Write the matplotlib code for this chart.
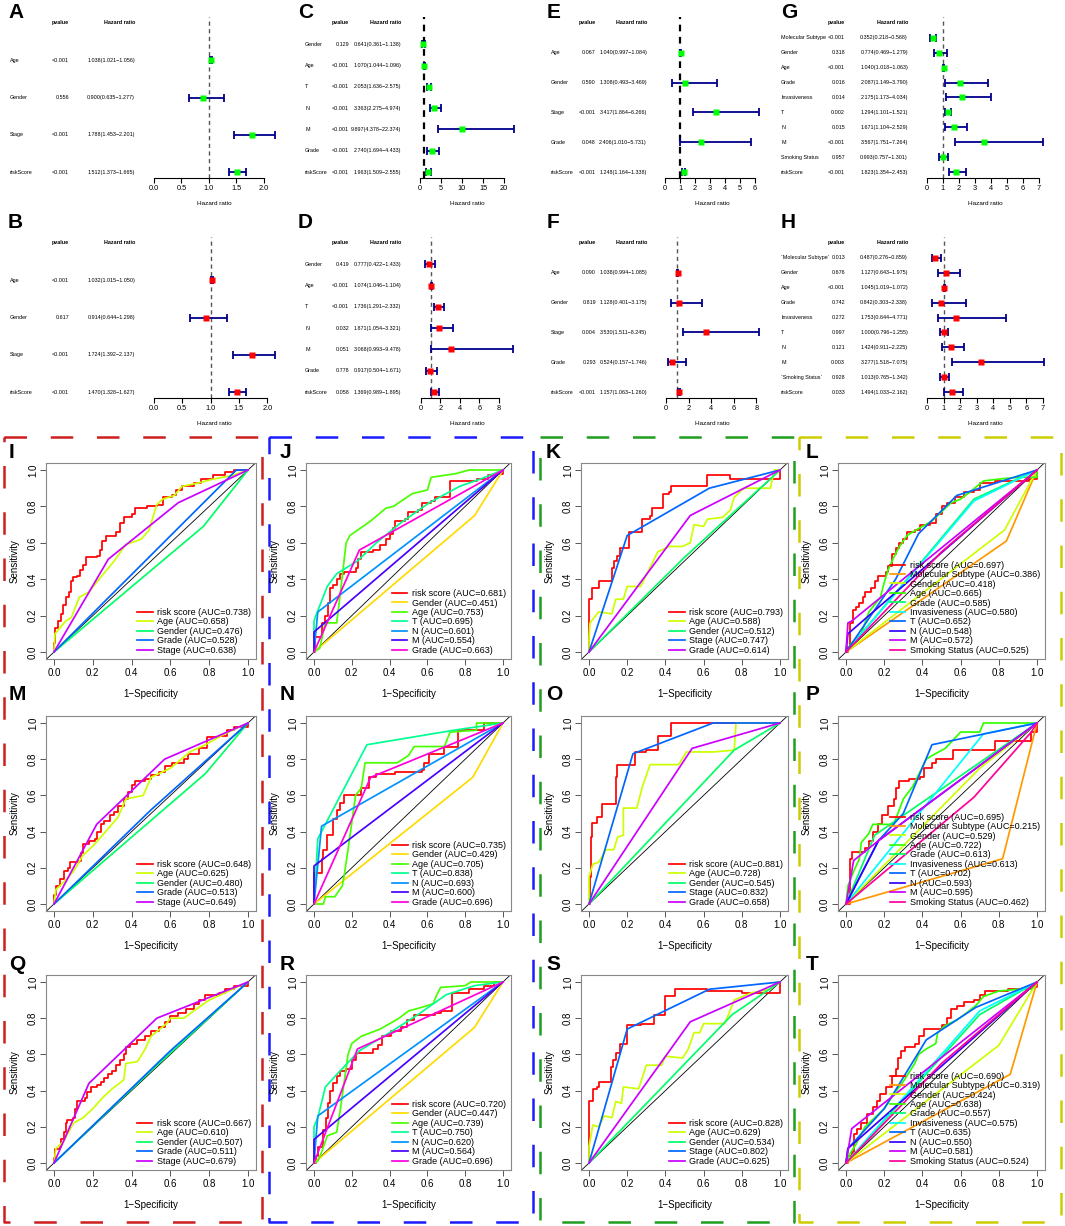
import numpy as np
import matplotlib
matplotlib.use("Agg")
import matplotlib.pyplot as plt
from matplotlib import font_manager
from matplotlib.transforms import blended_transform_factory

# ---------------- Cox regression forest plots ----------------
A_vars = ["Age", "Gender", "Stage", "riskScore"]
A_p = ["<0.001", "0.556", "<0.001", "<0.001"]
A_hr = [1.038, 0.900, 1.788, 1.512]
A_lo = [1.021, 0.635, 1.453, 1.373]
A_hi = [1.056, 1.277, 2.201, 1.665]

B_vars = ["Age", "Gender", "Stage", "riskScore"]
B_p = ["<0.001", "0.617", "<0.001", "<0.001"]
B_hr = [1.032, 0.914, 1.724, 1.470]
B_lo = [1.015, 0.644, 1.392, 1.328]
B_hi = [1.050, 1.298, 2.137, 1.627]

C_vars = ["Gender", "Age", "T", "N", "M", "Grade", "riskScore"]
C_p = ["0.129", "<0.001", "<0.001", "<0.001", "<0.001", "<0.001", "<0.001"]
C_hr = [0.641, 1.070, 2.053, 3.363, 9.897, 2.740, 1.963]
C_lo = [0.361, 1.044, 1.636, 2.275, 4.378, 1.694, 1.509]
C_hi = [1.138, 1.096, 2.575, 4.974, 22.374, 4.433, 2.555]

D_vars = ["Gender", "Age", "T", "N", "M", "Grade", "riskScore"]
D_p = ["0.419", "<0.001", "<0.001", "0.032", "0.051", "0.778", "0.058"]
D_hr = [0.777, 1.074, 1.736, 1.871, 3.068, 0.917, 1.369]
D_lo = [0.422, 1.046, 1.291, 1.054, 0.993, 0.504, 0.989]
D_hi = [1.433, 1.104, 2.332, 3.321, 9.478, 1.671, 1.895]

E_vars = ["Age", "Gender", "Stage", "Grade", "riskScore"]
E_p = ["0.067", "0.590", "<0.001", "0.048", "<0.001"]
E_hr = [1.040, 1.308, 3.417, 2.406, 1.248]
E_lo = [0.997, 0.493, 1.864, 1.010, 1.164]
E_hi = [1.084, 3.469, 6.266, 5.731, 1.338]

F_vars = ["Age", "Gender", "Stage", "Grade", "riskScore"]
F_p = ["0.090", "0.819", "0.004", "0.293", "<0.001"]
F_hr = [1.038, 1.128, 3.530, 0.524, 1.157]
F_lo = [0.994, 0.401, 1.511, 0.157, 1.063]
F_hi = [1.085, 3.175, 8.245, 1.746, 1.260]

G_vars = ["Molecular Subtype", "Gender", "Age", "Grade", "Invasiveness", "T", "N", "M",
          "Smoking Status", "riskScore"]
G_p = ["<0.001", "0.318", "<0.001", "0.016", "0.014", "0.002", "0.015", "<0.001", "0.957", "<0.001"]
G_hr = [0.352, 0.774, 1.040, 2.087, 2.175, 1.294, 1.671, 3.567, 0.993, 1.823]
G_lo = [0.218, 0.469, 1.018, 1.149, 1.173, 1.101, 1.104, 1.751, 0.757, 1.354]
G_hi = [0.568, 1.279, 1.063, 3.790, 4.034, 1.521, 2.529, 7.264, 1.301, 2.453]

H_vars = ["`Molecular Subtype`", "Gender", "Age", "Grade", "Invasiveness", "T", "N", "M",
          "`Smoking Status`", "riskScore"]
H_p = ["0.013", "0.676", "<0.001", "0.742", "0.272", "0.997", "0.121", "0.003", "0.928", "0.033"]
H_hr = [0.487, 1.127, 1.045, 0.842, 1.753, 1.000, 1.424, 3.277, 1.013, 1.494]
H_lo = [0.276, 0.643, 1.019, 0.303, 0.644, 0.796, 0.911, 1.518, 0.765, 1.033]
H_hi = [0.859, 1.975, 1.072, 2.338, 4.771, 1.255, 2.225, 7.075, 1.342, 2.162]

# ---------------- ROC curves ----------------
col0_labels = ["risk score", "Age", "Gender", "Grade", "Stage"]
col1_labels = ["risk score", "Gender", "Age", "T", "N", "M", "Grade"]
col2_labels = ["risk score", "Age", "Gender", "Stage", "Grade"]
col3_labels = ["risk score", "Molecular Subtype", "Gender", "Age", "Grade", "Invasiveness",
               "T", "N", "M", "Smoking Status"]

I_auc = [0.738, 0.658, 0.476, 0.528, 0.638]
M_auc = [0.648, 0.625, 0.480, 0.513, 0.649]
Q_auc = [0.667, 0.610, 0.507, 0.511, 0.679]
J_auc = [0.681, 0.451, 0.753, 0.695, 0.601, 0.554, 0.663]
N_auc = [0.735, 0.429, 0.705, 0.838, 0.693, 0.600, 0.696]
R_auc = [0.720, 0.447, 0.739, 0.750, 0.620, 0.564, 0.696]
K_auc = [0.793, 0.588, 0.512, 0.747, 0.614]
O_auc = [0.881, 0.728, 0.545, 0.832, 0.658]
S_auc = [0.828, 0.629, 0.534, 0.802, 0.625]
L_auc = [0.697, 0.386, 0.418, 0.665, 0.585, 0.580, 0.652, 0.548, 0.572, 0.525]
P_auc = [0.695, 0.215, 0.529, 0.722, 0.613, 0.613, 0.702, 0.593, 0.595, 0.462]
T_auc = [0.690, 0.319, 0.424, 0.638, 0.557, 0.575, 0.635, 0.550, 0.581, 0.524]

# risk score curves: (FPR where a rise happens, TPR after it)
I_risk = [(0, 0), (0, 0.05), (0.005, 0.13), (0.02, 0.17), (0.035, 0.21), (0.045, 0.26), (0.06, 0.30),
          (0.075, 0.33), (0.09, 0.39), (0.10, 0.41), (0.12, 0.42), (0.135, 0.45), (0.15, 0.48),
          (0.165, 0.52), (0.22, 0.53), (0.235, 0.56), (0.25, 0.61), (0.27, 0.64), (0.32, 0.66),
          (0.34, 0.71), (0.36, 0.74), (0.40, 0.76), (0.42, 0.79), (0.48, 0.80), (0.53, 0.81),
          (0.56, 0.85), (0.61, 0.86), (0.63, 0.89), (0.66, 0.91), (0.72, 0.93), (0.76, 0.95),
          (0.82, 0.97), (0.88, 0.99), (0.93, 1.0), (1, 1)]
M_risk = [(0, 0), (0, 0.05), (0.01, 0.10), (0.03, 0.14), (0.05, 0.18), (0.07, 0.20), (0.08, 0.23),
          (0.13, 0.24), (0.14, 0.28), (0.15, 0.33), (0.18, 0.35), (0.21, 0.36), (0.22, 0.40),
          (0.24, 0.44), (0.26, 0.46), (0.29, 0.49), (0.31, 0.51), (0.33, 0.54), (0.36, 0.58),
          (0.38, 0.62), (0.40, 0.66), (0.42, 0.68), (0.47, 0.69), (0.50, 0.71), (0.54, 0.73),
          (0.57, 0.76), (0.61, 0.78), (0.67, 0.80), (0.69, 0.83), (0.75, 0.86), (0.79, 0.92),
          (0.85, 0.93), (0.89, 0.96), (0.93, 0.98), (1, 1)]
Q_risk = [(0, 0), (0, 0.03), (0.005, 0.08), (0.03, 0.09), (0.035, 0.13), (0.05, 0.17), (0.06, 0.22),
          (0.065, 0.24), (0.10, 0.25), (0.11, 0.30), (0.12, 0.34), (0.16, 0.36), (0.17, 0.39),
          (0.19, 0.42), (0.22, 0.43), (0.24, 0.45), (0.26, 0.47), (0.28, 0.49), (0.30, 0.51),
          (0.32, 0.54), (0.34, 0.57), (0.36, 0.60), (0.37, 0.64), (0.39, 0.66), (0.43, 0.68),
          (0.47, 0.70), (0.50, 0.73), (0.54, 0.75), (0.57, 0.78), (0.60, 0.81), (0.64, 0.83),
          (0.68, 0.85), (0.72, 0.88), (0.75, 0.90), (0.78, 0.93), (0.85, 0.94), (0.88, 0.96),
          (0.93, 0.98), (1, 1)]
J_risk = [(0, 0), (0.005, 0.08), (0.04, 0.16), (0.06, 0.20), (0.075, 0.27), (0.085, 0.35),
          (0.10, 0.37), (0.12, 0.40), (0.14, 0.43), (0.16, 0.44), (0.22, 0.46), (0.235, 0.51),
          (0.25, 0.55), (0.31, 0.56), (0.35, 0.59), (0.38, 0.62), (0.40, 0.65), (0.42, 0.68),
          (0.43, 0.72), (0.48, 0.73), (0.50, 0.77), (0.55, 0.78), (0.57, 0.82), (0.62, 0.83),
          (0.64, 0.85), (0.72, 0.94), (0.83, 0.94), (0.86, 0.95), (0.92, 0.97), (0.97, 0.98), (1, 1)]
N_risk = [(0, 0), (0, 0.17), (0.04, 0.25), (0.05, 0.30), (0.07, 0.38), (0.10, 0.47), (0.12, 0.52),
          (0.14, 0.56), (0.16, 0.60), (0.25, 0.64), (0.29, 0.70), (0.33, 0.72), (0.43, 0.73),
          (0.57, 0.74), (0.58, 0.78), (0.61, 0.83), (0.69, 0.87), (0.76, 0.96), (0.90, 1.0), (1, 1)]
R_risk = [(0, 0), (0.01, 0.04), (0.02, 0.09), (0.045, 0.18), (0.065, 0.25), (0.075, 0.33),
          (0.085, 0.40), (0.10, 0.44), (0.12, 0.48), (0.14, 0.51), (0.17, 0.52), (0.20, 0.57),
          (0.22, 0.60), (0.23, 0.61), (0.31, 0.63), (0.34, 0.65), (0.36, 0.70), (0.41, 0.73),
          (0.46, 0.75), (0.49, 0.79), (0.53, 0.82), (0.64, 0.83), (0.67, 0.84), (0.73, 0.94),
          (0.82, 0.96), (0.90, 0.98), (0.95, 1.0), (1, 1)]
K_risk = [(0, 0), (0, 0.29), (0.015, 0.35), (0.05, 0.39), (0.12, 0.46), (0.13, 0.50), (0.145, 0.53),
          (0.16, 0.57), (0.21, 0.66), (0.28, 0.73), (0.32, 0.75), (0.33, 0.79), (0.385, 0.87),
          (0.42, 0.88), (0.43, 0.91), (0.62, 0.97), (0.74, 0.95), (1.0, 1.0)]
O_risk = [(0, 0), (0.005, 0.15), (0.01, 0.37), (0.015, 0.45), (0.04, 0.48), (0.07, 0.55),
          (0.14, 0.70), (0.145, 0.77), (0.24, 0.84), (0.30, 0.85), (0.36, 0.93), (0.43, 1.0), (1, 1)]
S_risk = [(0, 0), (0, 0.34), (0.02, 0.41), (0.04, 0.42), (0.05, 0.45), (0.115, 0.53), (0.125, 0.57),
          (0.14, 0.61), (0.16, 0.66), (0.20, 0.76), (0.27, 0.77), (0.34, 0.82), (0.40, 0.92),
          (0.45, 0.96), (0.62, 0.95), (0.80, 0.94), (1.0, 1.0)]
L_risk = [(0, 0), (0.01, 0.03), (0.02, 0.16), (0.035, 0.23), (0.05, 0.25), (0.07, 0.27), (0.09, 0.30),
          (0.10, 0.33), (0.13, 0.35), (0.15, 0.39), (0.17, 0.42), (0.21, 0.44), (0.22, 0.47),
          (0.24, 0.54), (0.26, 0.57), (0.28, 0.60), (0.30, 0.62), (0.32, 0.66), (0.36, 0.67),
          (0.39, 0.70), (0.44, 0.71), (0.47, 0.76), (0.50, 0.80), (0.53, 0.82), (0.57, 0.85),
          (0.62, 0.88), (0.67, 0.89), (0.70, 0.93), (0.78, 0.94), (0.96, 0.95), (1, 1)]
P_risk = [(0, 0), (0.02, 0.25), (0.03, 0.29), (0.10, 0.31), (0.12, 0.35), (0.14, 0.40), (0.17, 0.44),
          (0.19, 0.49), (0.22, 0.54), (0.25, 0.58), (0.26, 0.64), (0.28, 0.68), (0.33, 0.69),
          (0.39, 0.70), (0.41, 0.75), (0.45, 0.78), (0.47, 0.80), (0.56, 0.85), (0.78, 0.90),
          (0.97, 0.95), (1, 1)]
T_risk = [(0, 0), (0.01, 0.04), (0.03, 0.06), (0.04, 0.16), (0.06, 0.19), (0.08, 0.22), (0.11, 0.27),
          (0.14, 0.31), (0.16, 0.34), (0.18, 0.38), (0.21, 0.42), (0.24, 0.48), (0.26, 0.52),
          (0.27, 0.58), (0.29, 0.62), (0.31, 0.64), (0.36, 0.66), (0.38, 0.70), (0.41, 0.74),
          (0.50, 0.76), (0.53, 0.80), (0.55, 0.85), (0.58, 0.87), (0.62, 0.89), (0.67, 0.90),
          (0.70, 0.93), (0.73, 0.95), (0.85, 0.96), (0.95, 0.97), (1, 1)]

# clinical variables (polylines)
I_age = [(0, 0), (0.005, 0.10), (0.06, 0.17), (0.09, 0.19), (0.13, 0.30), (0.18, 0.33), (0.24, 0.41),
         (0.31, 0.50), (0.37, 0.59), (0.45, 0.62), (0.49, 0.67), (0.53, 0.81), (0.56, 0.84),
         (0.62, 0.86), (0.66, 0.91), (0.75, 0.93), (0.82, 0.95), (0.92, 0.97), (1, 1)]
I_gender = [(0, 0), (0.77, 0.69), (1, 1)]
I_grade = [(0, 0), (0.94, 1.0), (1, 1)]
I_stage = [(0, 0), (0.28, 0.51), (0.64, 0.82), (1, 1)]

M_age = [(0, 0), (0.01, 0.08), (0.05, 0.12), (0.10, 0.18), (0.15, 0.27), (0.20, 0.32), (0.25, 0.38),
         (0.33, 0.48), (0.37, 0.58), (0.46, 0.60), (0.50, 0.70), (0.60, 0.75), (0.70, 0.84),
         (0.78, 0.88), (0.88, 0.94), (1, 1)]
M_gender = [(0, 0), (0.78, 0.72), (1, 1)]
M_grade = [(0, 0), (0.5, 0.52), (1, 1)]
M_stage = [(0, 0), (0.22, 0.44), (0.57, 0.80), (1, 1)]

Q_age = [(0, 0), (0.01, 0.08), (0.05, 0.12), (0.10, 0.22), (0.15, 0.25), (0.20, 0.30), (0.25, 0.36),
         (0.30, 0.41), (0.36, 0.46), (0.37, 0.55), (0.43, 0.56), (0.47, 0.63), (0.50, 0.70),
         (0.58, 0.77), (0.60, 0.80), (0.67, 0.80), (0.72, 0.84), (0.80, 0.90), (0.90, 0.95), (1, 1)]
Q_gender = [(0, 0), (0.5, 0.51), (1, 1)]
Q_grade = [(0, 0), (0.6, 0.62), (1, 1)]
Q_stage = [(0, 0), (0.18, 0.44), (0.53, 0.80), (1, 1)]

J_gender = [(0, 0), (0.85, 0.75), (1, 1)]
J_age = [(0, 0), (0.03, 0.02), (0.06, 0.16), (0.12, 0.16), (0.14, 0.33), (0.17, 0.60), (0.19, 0.64),
         (0.30, 0.72), (0.38, 0.79), (0.42, 0.80), (0.52, 0.87), (0.60, 0.89), (0.62, 0.96),
         (0.75, 0.98), (0.82, 1.0), (1, 1)]
J_t = [(0, 0), (0, 0.17), (0.01, 0.20), (0.07, 0.36), (0.12, 0.43), (0.23, 0.50), (0.33, 0.60),
       (0.46, 0.71), (0.61, 0.82), (0.77, 0.91), (0.88, 0.95), (1, 1)]
J_n = [(0, 0), (0.02, 0.22), (1, 1)]
J_m = [(0, 0), (0, 0.11), (1, 1)]
J_grade = [(0, 0), (0.24, 0.56), (1, 1)]

N_gender = [(0, 0), (0.84, 0.70), (1, 1)]
N_age = [(0, 0), (0.05, 0.0), (0.06, 0.04), (0.11, 0.04), (0.15, 0.10), (0.16, 0.16), (0.18, 0.30),
         (0.20, 0.45), (0.22, 0.60), (0.25, 0.64), (0.27, 0.78), (0.44, 0.78), (0.50, 0.82),
         (0.53, 0.87), (0.69, 0.87), (0.72, 0.95), (0.86, 0.96), (0.86, 1.0), (1, 1)]
N_t = [(0, 0), (0.02, 0.36), (0.28, 0.88), (0.74, 0.96), (1, 1)]
N_n = [(0, 0), (0.04, 0.43), (1, 1)]
N_m = [(0, 0), (0, 0.21), (1, 1)]
N_grade = [(0, 0), (0.30, 0.70), (1, 1)]

R_gender = [(0, 0), (0.85, 0.75), (1, 1)]
R_age = [(0, 0), (0.02, 0.01), (0.04, 0.06), (0.07, 0.15), (0.12, 0.17), (0.14, 0.30), (0.16, 0.45),
         (0.18, 0.60), (0.20, 0.66), (0.25, 0.70), (0.35, 0.74), (0.45, 0.80), (0.50, 0.84),
         (0.57, 0.86), (0.63, 0.88), (0.65, 0.93), (0.67, 0.97), (0.80, 0.98), (0.83, 1.0), (1, 1)]
R_t = [(0, 0), (0, 0.20), (0.02, 0.25), (0.06, 0.42), (0.13, 0.50), (0.24, 0.62), (0.40, 0.72),
       (0.55, 0.82), (0.70, 0.93), (0.85, 0.98), (1, 1)]
R_n = [(0, 0), (0.02, 0.26), (1, 1)]
R_m = [(0, 0), (0, 0.13), (1, 1)]
R_grade = [(0, 0), (0.23, 0.63), (1, 1)]

K_age = [(0, 0), (0, 0.07), (0.005, 0.16), (0.02, 0.18), (0.05, 0.22), (0.12, 0.21), (0.14, 0.29),
         (0.18, 0.29), (0.20, 0.36), (0.27, 0.36), (0.36, 0.55), (0.42, 0.58), (0.49, 0.58),
         (0.53, 0.60), (0.55, 0.70), (0.60, 0.69), (0.62, 0.73), (0.70, 0.74), (0.74, 0.78),
         (0.76, 0.85), (0.81, 0.90), (0.95, 0.90), (0.97, 1.0), (1, 1)]
K_gender = [(0, 0), (0.5, 0.52), (1, 1)]
K_stage = [(0, 0), (0.20, 0.64), (0.63, 0.90), (1, 1)]
K_grade = [(0, 0), (0.53, 0.75), (1, 1)]

O_age = [(0, 0), (0, 0.15), (0.02, 0.22), (0.05, 0.23), (0.09, 0.30), (0.13, 0.30), (0.15, 0.37),
         (0.18, 0.38), (0.18, 0.53), (0.25, 0.53), (0.28, 0.65), (0.32, 0.77), (0.47, 0.77),
         (0.51, 0.84), (0.65, 0.84), (0.76, 0.85), (0.77, 1.0), (0.85, 1.0), (1, 1)]
O_gender = [(0, 0), (0.76, 0.85), (1, 1)]
O_stage = [(0, 0), (0.23, 0.83), (0.65, 1.0), (1, 1)]
O_grade = [(0, 0), (0.54, 0.86), (1, 1)]

S_age = [(0, 0), (0, 0.09), (0.02, 0.21), (0.05, 0.20), (0.08, 0.26), (0.12, 0.25), (0.14, 0.34),
         (0.17, 0.33), (0.18, 0.42), (0.26, 0.41), (0.30, 0.54), (0.38, 0.54), (0.40, 0.59),
         (0.49, 0.58), (0.52, 0.63), (0.55, 0.72), (0.58, 0.72), (0.60, 0.77), (0.71, 0.77),
         (0.73, 0.82), (0.76, 0.90), (0.85, 0.94), (0.95, 0.96), (0.98, 1.0), (1, 1)]
S_gender = [(0, 0), (0.75, 0.82), (1, 1)]
S_stage = [(0, 0), (0.20, 0.74), (0.63, 0.96), (1, 1)]
S_grade = [(0, 0), (0.53, 0.78), (1, 1)]

L_ms = [(0, 0), (0.84, 0.61), (1, 1)]
L_gender = [(0, 0), (0.83, 0.67), (1, 1)]
L_age = [(0, 0), (0.03, 0.05), (0.08, 0.10), (0.12, 0.22), (0.18, 0.30), (0.20, 0.38), (0.22, 0.45),
         (0.25, 0.52), (0.28, 0.58), (0.32, 0.64), (0.35, 0.66), (0.40, 0.69), (0.45, 0.72),
         (0.50, 0.77), (0.55, 0.82), (0.60, 0.84), (0.65, 0.88), (0.72, 0.94), (0.80, 0.95),
         (0.90, 0.96), (1, 0.96), (1, 1)]
L_grade = [(0, 0), (0.67, 0.84), (1, 1)]
L_inv = [(0, 0), (0.67, 0.83), (1, 1)]
L_t = [(0, 0), (0.26, 0.40), (0.38, 0.65), (0.58, 0.86), (1, 1)]
L_n = [(0, 0), (0.01, 0.10), (1, 1)]
L_m = [(0, 0), (0.01, 0.16), (0.03, 0.17), (1, 1)]
L_smoke = [(0, 0), (0.50, 0.55), (1, 1)]

P_ms = [(0, 0), (0.82, 0.25), (1, 1)]
P_gender = [(0, 0), (0.70, 0.75), (1, 1)]
P_age = [(0, 0), (0.01, 0.10), (0.04, 0.18), (0.07, 0.25), (0.08, 0.34), (0.12, 0.39), (0.14, 0.44),
         (0.25, 0.44), (0.30, 0.58), (0.35, 0.65), (0.42, 0.80), (0.45, 0.82), (0.52, 0.86),
         (0.60, 0.95), (0.70, 0.95), (0.72, 1.0), (0.98, 1.0), (1, 1)]
P_grade = [(0, 0), (0.15, 0.38), (1, 1)]
P_inv = [(0, 0), (0.72, 0.94), (1, 1)]
P_t = [(0, 0), (0.17, 0.35), (0.30, 0.50), (0.45, 0.88), (1, 1)]
P_n = [(0, 0), (0.17, 0.35), (1, 1)]
P_m = [(0, 0), (0.04, 0.24), (0.17, 0.35), (1, 1)]
P_smoke = [(0, 0), (0.67, 0.59), (0.97, 0.95), (1, 1)]

T_ms = [(0, 0), (0.86, 0.49), (1, 1)]
T_gender = [(0, 0), (0.80, 0.65), (1, 1)]
T_age = [(0, 0), (0.02, 0.05), (0.05, 0.10), (0.10, 0.20), (0.15, 0.25), (0.20, 0.30), (0.25, 0.38),
         (0.30, 0.45), (0.36, 0.55), (0.38, 0.60), (0.42, 0.63), (0.47, 0.66), (0.48, 0.72),
         (0.52, 0.76), (0.58, 0.79), (0.62, 0.82), (0.68, 0.87), (0.72, 0.92), (0.80, 0.95),
         (0.90, 0.96), (0.97, 0.96), (1, 1)]
T_grade = [(0, 0), (0.70, 0.82), (1, 1)]
T_inv = [(0, 0), (0.70, 0.84), (1, 1)]
T_t = [(0, 0), (0.01, 0.08), (0.20, 0.30), (0.42, 0.68), (0.68, 0.86), (1, 1)]
T_n = [(0, 0), (0.01, 0.08), (1, 1)]
T_m = [(0, 0), (0.03, 0.19), (1, 1)]
T_smoke = [(0, 0), (0.50, 0.55), (1, 1)]

# R rainbow() palettes
rb5 = ['#FF0000', '#CCFF00', '#00FF66', '#0066FF', '#CC00FF']
rb7 = ['#FF0000', '#FFDB00', '#49FF00', '#00FF92', '#0092FF', '#4900FF', '#FF00DB']
rb10 = ['#FF0000', '#FF9900', '#CCFF00', '#33FF00', '#00FF66', '#00FFFF', '#0066FF', '#3300FF',
        '#CC00FF', '#FF0099']

W, H = 1065, 1226

avail = {f.name for f in font_manager.fontManager.ttflist}
if "Liberation Sans Narrow" in avail:
    NARROW, fscale = "Liberation Sans Narrow", 1.0
else:
    NARROW, fscale = "Liberation Sans", 0.85
FN = [NARROW, "DejaVu Sans"]
plt.rcParams['font.family'] = ['Liberation Sans', 'DejaVu Sans']

fig = plt.figure(figsize=(W / 100, H / 100), dpi=100)


def rect(x0, y0, x1, y1):
    # pixel box (top-left origin) -> figure fraction
    return [x0 / W, 1 - y1 / H, (x1 - x0) / W, (y1 - y0) / H]


# dashed frames around the ROC columns
ov = fig.add_axes([0, 0, 1, 1], zorder=0)
ov.set_xlim(0, W)
ov.set_ylim(H, 0)
ov.axis('off')
frames = [(4, 262, '#cc1f1f'), (269, 533, '#1a1aff'), (540, 794, '#1f9f1f'), (799, 1061, '#cccc00')]
for l, r, c in frames:
    ov.plot([l, r, r, l, l], [437, 437, 1222, 1222, 437], color=c, lw=1.8,
            ls=(0, (9, 9.5)), dash_capstyle='butt')


def forest(letter, vars_, pv, hr, lo, hi, dot, xr, top, bottom, cols, lab_x, lab_y,
           ticks, tlabels, vcol, vlw):
    n = len(vars_)
    hr, lo, hi = np.array(hr), np.array(lo), np.array(hi)
    ax = fig.add_axes(rect(xr[0], top, xr[1], bottom))
    ax.patch.set_alpha(0)
    ax.set_xlim(0, hi.max())
    ax.set_ylim(1 - 0.04 * n, n + 1 + 0.04 * n)
    y = np.arange(n, 0, -1)
    eb = ax.errorbar(hr, y, xerr=[hr - lo, hi - hr], fmt='none', ecolor='#00008B',
                     elinewidth=1.3, capsize=2.8, capthick=1.3)
    for art in list(eb.lines[1]) + list(eb.lines[2]):
        art.set_clip_on(False)
    ax.axvline(1, color=vcol, lw=vlw, ls=(0, (3, 2.5)), zorder=1)
    ax.plot(hr, y, 's', color=dot, ms=4.8, mec='none', zorder=5, clip_on=False)
    for s in ['top', 'right', 'left']:
        ax.spines[s].set_visible(False)
    ax.spines['bottom'].set_bounds(ticks[0], ticks[-1])
    ax.spines['bottom'].set_linewidth(0.8)
    ax.set_yticks([])
    ax.set_xticks(ticks)
    ax.set_xticklabels(tlabels, fontsize=6.2 * fscale, family=FN)
    ax.tick_params(axis='x', length=3.5, width=0.8, pad=1.5)
    ax.set_xlabel('Hazard ratio', fontsize=5.4 * fscale, family=FN, labelpad=6.5)
    tr = blended_transform_factory(fig.transFigure, ax.transData)
    fs = 4.6 * fscale
    for yi, name, p, h, l, u in zip(y, vars_, pv, hr, lo, hi):
        ax.text(cols[0] / W, yi, name, transform=tr, ha='left', va='center', fontsize=fs, family=FN)
        ax.text(cols[1] / W, yi, p, transform=tr, ha='right', va='center', fontsize=fs, family=FN)
        ax.text(cols[2] / W, yi, f"{h:.3f}({l:.3f}\u2212{u:.3f})", transform=tr, ha='right',
                va='center', fontsize=fs, family=FN)
    ax.text(cols[1] / W, n + 1, 'pvalue', transform=tr, ha='right', va='center', fontsize=fs,
            family=FN, fontweight='bold')
    ax.text(cols[2] / W, n + 1, 'Hazard ratio', transform=tr, ha='right', va='center', fontsize=fs,
            family=FN, fontweight='bold')
    fig.text(lab_x / W, 1 - lab_y / H, letter, fontsize=15, fontweight='bold', va='center', ha='left',
             family=['Liberation Sans', 'DejaVu Sans'])


tA = [0, 0.5, 1, 1.5, 2]
tAl = ['0.0', '0.5', '1.0', '1.5', '2.0']
t8 = [0, 2, 4, 6, 8]
t7 = [0, 1, 2, 3, 4, 5, 6, 7]
t6 = [0, 1, 2, 3, 4, 5, 6]
t20 = [0, 5, 10, 15, 20]
r1 = (17, 178)
r2 = (237, 398)
forest('A', A_vars, A_p, A_hr, A_lo, A_hi, 'lime', (154, 275), *r1, (10, 69, 135), 8, 13,
       tA, tAl, '#555555', 1.0)
forest('B', B_vars, B_p, B_hr, B_lo, B_hi, 'red', (154, 275), *r2, (10, 69, 135), 8, 222,
       tA, tAl, '#555555', 1.0)
forest('C', C_vars, C_p, C_hr, C_lo, C_hi, 'lime', (420, 514), *r1, (305, 349, 401), 298, 12,
       t20, [str(t) for t in t20], 'black', 1.6)
forest('D', D_vars, D_p, D_hr, D_lo, D_hi, 'red', (421, 513), *r2, (305, 349, 401), 298, 222,
       t8, [str(t) for t in t8], '#555555', 1.0)
forest('E', E_vars, E_p, E_hr, E_lo, E_hi, 'lime', (665, 759), *r1, (551, 596, 647), 547, 12,
       t6, [str(t) for t in t6], 'black', 1.6)
forest('F', F_vars, F_p, F_hr, F_lo, F_hi, 'red', (666, 759), *r2, (551, 596, 647), 547, 223,
       t8, [str(t) for t in t8], '#555555', 1.0)
forest('G', G_vars, G_p, G_hr, G_lo, G_hi, 'lime', (927, 1043), *r1, (781, 845, 908), 781, 12,
       t7, [str(t) for t in t7], '#555555', 1.0)
forest('H', H_vars, H_p, H_hr, H_lo, H_hi, 'red', (927, 1044), *r2, (781, 845, 908), 781, 223,
       t7, [str(t) for t in t7], '#555555', 1.0)

# ROC panels: pixel positions of data 0 and 1
roc_x0 = [54, 314, 589, 846]
roc_x1 = [248, 503, 780, 1037]
roc_y1 = [470, 723, 982]
roc_y0 = [652, 904, 1163]
lab_xs = [9, 280, 546, 806]
lab_ys = [452, 694, 964]


def roc(letter, col, row, labels, aucs, risk, others, colors):
    ux = roc_x1[col] - roc_x0[col]
    uy = roc_y0[row] - roc_y1[row]
    ax = fig.add_axes(rect(roc_x0[col] - 0.04 * ux, roc_y1[row] - 0.04 * uy,
                           roc_x1[col] + 0.04 * ux, roc_y0[row] + 0.04 * uy), zorder=2)
    ax.set_xlim(-0.04, 1.04)
    ax.set_ylim(-0.04, 1.04)
    ax.axline((0, 0), (1, 1), color='black', lw=0.6, zorder=1)
    curves = [risk] + others
    for k, (pts, c, lab, a) in enumerate(zip(curves, colors, labels, aucs)):
        xs = [p[0] for p in pts]
        ys = [p[1] for p in pts]
        ax.plot(xs, ys, color=c, lw=1.25, label=f"{lab} (AUC={a:.3f})",
                drawstyle='steps-post' if k == 0 else 'default', zorder=2)
    ax.legend(loc='lower right', frameon=False, fontsize=6.5, handlelength=1.7, handletextpad=0.5,
              labelspacing=0.05, borderaxespad=0.3, borderpad=0.2)
    ticks = [0, 0.2, 0.4, 0.6, 0.8, 1.0]
    tl = [f"{t:.1f}" for t in ticks]
    ax.set_xticks(ticks)
    ax.set_xticklabels(tl)
    ax.set_yticks(ticks)
    ax.set_yticklabels(tl, rotation=90, va='center')
    ax.tick_params(length=4, width=0.7, color='#555555', labelsize=7, pad=2)
    for s in ax.spines.values():
        s.set_color('#888888')
        s.set_linewidth(0.8)
    ax.set_xlabel('1\u2212Specificity', fontsize=7, labelpad=8)
    ax.set_ylabel('Sensitivity', fontsize=7, labelpad=6)
    fig.text(lab_xs[col] / W, 1 - lab_ys[row] / H, letter, fontsize=15, fontweight='bold',
             va='center', ha='left')


roc('I', 0, 0, col0_labels, I_auc, I_risk, [I_age, I_gender, I_grade, I_stage], rb5)
roc('M', 0, 1, col0_labels, M_auc, M_risk, [M_age, M_gender, M_grade, M_stage], rb5)
roc('Q', 0, 2, col0_labels, Q_auc, Q_risk, [Q_age, Q_gender, Q_grade, Q_stage], rb5)
roc('J', 1, 0, col1_labels, J_auc, J_risk, [J_gender, J_age, J_t, J_n, J_m, J_grade], rb7)
roc('N', 1, 1, col1_labels, N_auc, N_risk, [N_gender, N_age, N_t, N_n, N_m, N_grade], rb7)
roc('R', 1, 2, col1_labels, R_auc, R_risk, [R_gender, R_age, R_t, R_n, R_m, R_grade], rb7)
roc('K', 2, 0, col2_labels, K_auc, K_risk, [K_age, K_gender, K_stage, K_grade], rb5)
roc('O', 2, 1, col2_labels, O_auc, O_risk, [O_age, O_gender, O_stage, O_grade], rb5)
roc('S', 2, 2, col2_labels, S_auc, S_risk, [S_age, S_gender, S_stage, S_grade], rb5)
roc('L', 3, 0, col3_labels, L_auc, L_risk,
    [L_ms, L_gender, L_age, L_grade, L_inv, L_t, L_n, L_m, L_smoke], rb10)
roc('P', 3, 1, col3_labels, P_auc, P_risk,
    [P_ms, P_gender, P_age, P_grade, P_inv, P_t, P_n, P_m, P_smoke], rb10)
roc('T', 3, 2, col3_labels, T_auc, T_risk,
    [T_ms, T_gender, T_age, T_grade, T_inv, T_t, T_n, T_m, T_smoke], rb10)

fig.savefig('out.png', dpi=100)
